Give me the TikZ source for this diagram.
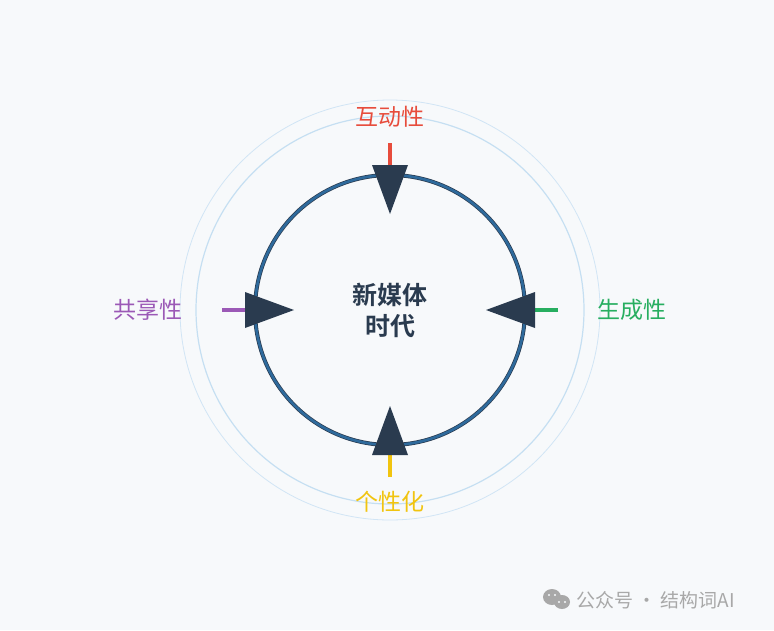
\documentclass[tikz,border=0pt]{standalone}
\usepackage{fontspec}
\setmainfont{Noto Sans CJK SC}
\newfontfamily\cjkb[BoldFont={Noto Sans CJK SC Bold}]{Noto Sans CJK SC}
\begin{document}
\begin{tikzpicture}[x=1pt,y=-1pt,
  lbl/.style={font=\fontsize{23}{26}\selectfont, inner sep=0pt},
  stub/.style={line width=4.5pt},
  head/.style={fill=darkc, draw=none}]
\definecolor{bgc}{HTML}{F7F9FB}
\definecolor{darkc}{HTML}{2A3B4F}
\definecolor{ringc}{HTML}{2E6A9C}
\definecolor{halo}{HTML}{C5DFF2}
\definecolor{redc}{HTML}{E74C3C}
\definecolor{greenc}{HTML}{27AE60}
\definecolor{purplec}{HTML}{9B59B6}
\definecolor{yellowc}{HTML}{F1C40F}
\definecolor{grayc}{HTML}{A8A8A8}
\fill[bgc] (0,0) rectangle (774,630);
\useasboundingbox (0,0) rectangle (774,630);
\coordinate (c) at (390,310);
\draw[halo!80, line width=0.8pt] (c) circle[radius=210];
\draw[halo, line width=1.2pt] (c) circle[radius=194];
\draw[darkc, line width=4pt] (c) circle[radius=135];
\draw[ringc, line width=2.6pt] (c) circle[radius=135];
\node[font=\cjkb\bfseries\fontsize{25}{31}\selectfont, text=darkc, align=center] (t) at (c) {新媒体\\时代};
% top
\node[lbl, text=redc] (ltop) at (390,117) {互动性};
\coordinate (st) at (390,143);
\draw[stub, redc] (st) -- (390,166);
\fill[head] (372,165) -- (408,165) -- (390,214) -- cycle;
% bottom
\node[lbl, text=yellowc] (lbot) at (390,502) {个性化};
\coordinate (sb) at (390,477);
\draw[stub, yellowc] (sb) -- (390,454);
\fill[head] (372,455) -- (408,455) -- (390,406) -- cycle;
% left
\node[lbl, text=purplec] (lleft) at (148,310) {共享性};
\coordinate (sl) at (222,310);
\draw[stub, purplec] (sl) -- (246,310);
\fill[head] (245,292) -- (245,328) -- (294,310) -- cycle;
% right
\node[lbl, text=greenc] (lright) at (632,310) {生成性};
\coordinate (sr) at (558,310);
\draw[stub, greenc] (sr) -- (534,310);
\fill[head] (535,292) -- (535,328) -- (486,310) -- cycle;
% watermark
\fill[grayc] (552,597) ellipse (9 and 8);
\fill[grayc] (562,602) ellipse (8 and 7);
\fill[bgc] (559,602) circle (1.2) (565,602) circle (1.2) (549,595) circle (1.2) (555,595) circle (1.2);
\node[font=\fontsize{19}{22}\selectfont, text=grayc, anchor=west, inner sep=0pt] (wm) at (576,600) {公众号 · 结构词AI};
\end{tikzpicture}
\end{document}
